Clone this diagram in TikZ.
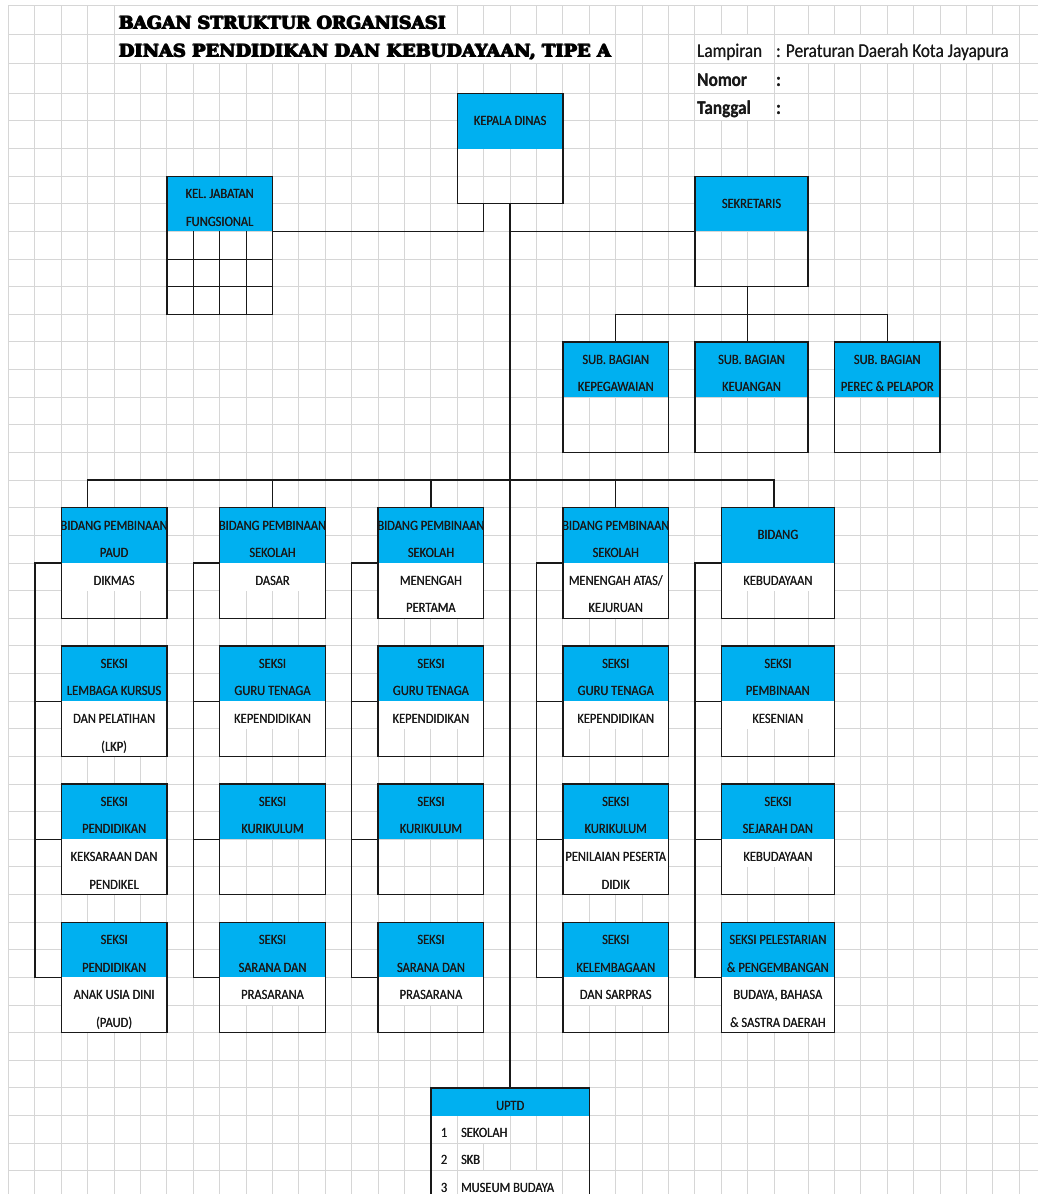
\documentclass[tikz,border=0pt]{standalone}
\usepackage{fontspec}
\usepackage{graphicx}
\usetikzlibrary{fit}
\setmainfont{Carlito}
\newfontfamily\cfont{Carlito}
\newfontfamily\tfont{DejaVu Serif}
\definecolor{cblue}{HTML}{00B0F0}
\definecolor{gridc}{HTML}{D6D6D6}
\newcommand\GX[1]{(8.5+26.4*(#1)+7.5*((#1)>29))}
\newcommand\GY[1]{(93.3+27.63*(#1))}
\newcommand\sq[1]{\scalebox{0.88}[1]{\rlap{\kern0.3pt #1}#1}}
\newcommand\heavy[1]{\rlap{\kern0.8pt #1}\rlap{\kern0.4pt\raise0.4pt\hbox{#1}}#1}
\newcounter{tn}
\tikzset{
  gridline/.style={draw=gridc, line width=1pt},
  frame/.style={draw=black!90, line width=1.3pt},
  conn/.style={draw=black!90, line width=1.3pt},
  btext/.style={font=\cfont\fontsize{14.2}{15}\selectfont, inner sep=0pt, anchor=base, text=black!90},
  htext/.style={font=\cfont\fontsize{19.5}{20}\selectfont, inner sep=0pt, anchor=base west, text=black!90},
  area/.style={inner sep=0pt, outer sep=0pt},
}
\newcommand\orgbox[6]{%
  \path ({\GX{#2}},{\GY{#4}}) coordinate (#1-nw)
        ({\GX{#3}},{\GY{#5}}) coordinate (#1-se)
        ({\GX{#3}},{\GY{#4+#6}}) coordinate (#1-hse);
  \node[area, fill=cblue, fit=(#1-nw)(#1-hse)] (#1h) {};
  \node[area, fit=(#1-nw)(#1-se)] (#1) {};
}
\newcommand\rowtxt[5]{%
  \stepcounter{tn}%
  \begin{scope}
    \clip ({\GX{#1}},{\GY{#3}}) rectangle ({\GX{#2}},{\GY{#3+1}});
    \fill[#4] ({\GX{#1}},{\GY{#3}}) rectangle ({\GX{#2}},{\GY{#3+1}});
    \node[btext] (tx\thetn) at ({(\GX{#1}+\GX{#2})/2},{\GY{#3}+22.3}) {\sq{#5}};
  \end{scope}}
\newcommand\seksi[8]{%
  \orgbox{#1}{#2}{#3}{#4}{(#4+4)}{2}%
  \rowtxt{#2}{#3}{#4}{cblue}{#5}%
  \rowtxt{#2}{#3}{(#4+1)}{cblue}{#6}%
  \if\relax\detokenize{#7}\relax\else\rowtxt{#2}{#3}{(#4+2)}{white}{#7}\fi
  \if\relax\detokenize{#8}\relax\else\rowtxt{#2}{#3}{(#4+3)}{white}{#8}\fi}
\newcommand\uptditem[3]{%
  \node[btext] (un#1) at ({(\GX{16}+\GX{17})/2},{\GY{#2}+21.6}) {\sq{#1}};
  \node[btext, anchor=base west, fill=white, inner xsep=1.5pt, text height=21pt, text depth=5.5pt]
     (ui#1) at ({\GX{17}+2},{\GY{#2}+21.6}) {\sq{#3}};}

\begin{document}
\begin{tikzpicture}[x=1pt,y=-1pt]
\fill[white] (0,0) rectangle (1038,1194);
\useasboundingbox (0,0) rectangle (1038,1194);
\begin{pgfinterruptboundingbox}
% spreadsheet grid
\foreach \jj in {0,...,39} \draw[gridline] ({\GX{\jj}},5) -- ({\GX{\jj}},1194);
\foreach \yy in {5,34.3,63.5} \draw[gridline] (8.5,\yy) -- (1038,\yy);
\foreach \rr in {0,...,39} \draw[gridline] (8.5,{\GY{\rr}}) -- (1038,{\GY{\rr}});

% title
\fill[white] ({\GX{4}+0.6},5.6) rectangle ({\GX{17}-0.6},33.7);
\fill[white] ({\GX{4}+0.6},34.9) rectangle ({\GX{23}-0.6},62.9);
\node[anchor=base west, inner sep=0pt] (title1) at (118,29) {\resizebox{327pt}{13.5pt}{\tfont\bfseries\heavy{BAGAN STRUKTUR ORGANISASI}}};
\node[anchor=base west, inner sep=0pt] (title2) at (118,57.5) {\resizebox{492pt}{13.5pt}{\tfont\bfseries\heavy{DINAS PENDIDIKAN DAN KEBUDAYAAN, TIPE A}}};

% header right
\fill[white] ({\GX{26}+0.6},34.9) rectangle ({\GX{29}-0.6},62.9);
\fill[white] ({\GX{29}+0.6},34.9) rectangle ({\GX{38}-0.6},62.9);
\fill[white] ({\GX{26}+0.6},64.1) rectangle ({\GX{29}-0.6},92.7);
\fill[white] ({\GX{26}+0.6},93.9) rectangle ({\GX{29}-0.6},{\GY{1}-0.6});
\node[htext] (lamp) at (697,57) {\sq{Lampiran}};
\node[htext] (lampv) at (776,57) {\sq{: Peraturan Daerah Kota Jayapura}};
\node[htext, font=\cfont\bfseries\fontsize{19.5}{20}\selectfont] (nom) at (697,86) {\sq{Nomor}};
\node[htext, font=\cfont\bfseries\fontsize{19.5}{20}\selectfont] (nomv) at (776,86) {\sq{:}};
\node[htext, font=\cfont\bfseries\fontsize{19.5}{20}\selectfont] (tgl) at (697,114.5) {\sq{Tanggal}};
\node[htext, font=\cfont\bfseries\fontsize{19.5}{20}\selectfont] (tglv) at (776,114.5) {\sq{:}};

% top boxes
\orgbox{kepala}{17}{21}{0}{4}{2}
\node[btext] (kepalat) at ([yshift=-4.5pt]kepalah.center) {\sq{KEPALA DINAS}};
\orgbox{kel}{6}{10}{3}{8}{2}
\rowtxt{6}{10}{3}{cblue}{KEL. JABATAN}
\rowtxt{6}{10}{4}{cblue}{FUNGSIONAL}
\orgbox{sek}{26}{30}{3}{7}{2}
\node[btext] (sekt) at ([yshift=-4.5pt]sekh.center) {\sq{SEKRETARIS}};

\orgbox{sb1}{21}{25}{9}{13}{2}
\rowtxt{21}{25}{9}{cblue}{SUB. BAGIAN}
\rowtxt{21}{25}{10}{cblue}{KEPEGAWAIAN}
\orgbox{sb2}{26}{30}{9}{13}{2}
\rowtxt{26}{30}{9}{cblue}{SUB. BAGIAN}
\rowtxt{26}{30}{10}{cblue}{KEUANGAN}
\orgbox{sb3}{31}{35}{9}{13}{2}
\rowtxt{31}{35}{9}{cblue}{SUB. BAGIAN}
\rowtxt{31}{35}{10}{cblue}{PEREC \& PELAPOR}

% column A
\seksi{a1}{2}{6}{15}{BIDANG PEMBINAAN}{PAUD}{DIKMAS}{}
\seksi{a2}{2}{6}{20}{SEKSI}{LEMBAGA KURSUS}{DAN PELATIHAN}{(LKP)}
\seksi{a3}{2}{6}{25}{SEKSI}{PENDIDIKAN}{KEKSARAAN DAN}{PENDIKEL}
\seksi{a4}{2}{6}{30}{SEKSI}{PENDIDIKAN}{ANAK USIA DINI}{(PAUD)}
% column B
\seksi{b1}{8}{12}{15}{BIDANG PEMBINAAN}{SEKOLAH}{DASAR}{}
\seksi{b2}{8}{12}{20}{SEKSI}{GURU TENAGA}{KEPENDIDIKAN}{}
\seksi{b3}{8}{12}{25}{SEKSI}{KURIKULUM}{}{}
\seksi{b4}{8}{12}{30}{SEKSI}{SARANA DAN}{PRASARANA}{}
% column C
\seksi{c1}{14}{18}{15}{BIDANG PEMBINAAN}{SEKOLAH}{MENENGAH}{PERTAMA}
\seksi{c2}{14}{18}{20}{SEKSI}{GURU TENAGA}{KEPENDIDIKAN}{}
\seksi{c3}{14}{18}{25}{SEKSI}{KURIKULUM}{}{}
\seksi{c4}{14}{18}{30}{SEKSI}{SARANA DAN}{PRASARANA}{}
% column D
\seksi{d1}{21}{25}{15}{BIDANG PEMBINAAN}{SEKOLAH}{MENENGAH ATAS/}{KEJURUAN}
\seksi{d2}{21}{25}{20}{SEKSI}{GURU TENAGA}{KEPENDIDIKAN}{}
\seksi{d3}{21}{25}{25}{SEKSI}{KURIKULUM}{PENILAIAN PESERTA}{DIDIK}
\seksi{d4}{21}{25}{30}{SEKSI}{KELEMBAGAAN}{DAN SARPRAS}{}
% column E
\orgbox{e1}{27}{31}{15}{19}{2}
\node[btext] (e1t) at ([yshift=-4.5pt]e1h.center) {\sq{BIDANG}};
\rowtxt{27}{31}{17}{white}{KEBUDAYAAN}
\seksi{e2}{27}{31}{20}{SEKSI}{PEMBINAAN}{KESENIAN}{}
\seksi{e3}{27}{31}{25}{SEKSI}{SEJARAH DAN}{KEBUDAYAAN}{}
\seksi{e4}{27}{31}{30}{SEKSI PELESTARIAN}{\& PENGEMBANGAN}{BUDAYA, BAHASA}{\& SASTRA DAERAH}

% UPTD
\orgbox{uptd}{16}{22}{36}{39.85}{1}
\rowtxt{16}{22}{36}{cblue}{UPTD}
\uptditem{1}{37}{SEKOLAH}
\uptditem{2}{38}{SKB}
\uptditem{3}{39}{MUSEUM BUDAYA}

% frames
\foreach \nn in {kepala,kel,sek,sb1,sb2,sb3,a1,a2,a3,a4,b1,b2,b3,b4,c1,c2,c3,c4,d1,d2,d3,d4,e1,e2,e3,e4}
  \draw[frame] (\nn.north west) rectangle (\nn.south east);
\draw[frame] (uptd.south west) -- (uptd.north west) -- (uptd.north east) -- (uptd.south east);
% table lines of KEL. JABATAN FUNGSIONAL
\foreach \jj in {7,8,9} \draw[frame, line width=1.1pt] ({\GX{\jj}},{\GY{5}}) -- ({\GX{\jj}},{\GY{8}});
\foreach \rr in {6,7} \draw[frame, line width=1.1pt] ({\GX{6}},{\GY{\rr}}) -- ({\GX{10}},{\GY{\rr}});

% helper coordinates
\coordinate (bus8) at (0,{\GY{8}});
\coordinate (bus14) at (0,{\GY{14}});
\foreach \jj in {1,3,7,13,18,20,26,28,29} \coordinate (j\jj) at ({\GX{\jj}},0);

% connectors
\draw[conn] (kepala.south -| j18) |- (kelh.south east);
\draw[conn] (kepala.south) -- (uptd.north);
\draw[conn] (sekh.south west -| kepala.south) -- (sekh.south west);
\draw[conn] (sek.south -| j28) -- (sb2.north -| j28);
\draw[conn] (sb1.north) |- (bus8 -| sb3.north) -- (sb3.north);
\draw[conn] (a1.north -| j3) |- (bus14 -| j29) -- (e1.north -| j29);
\draw[conn] (b1.north) -- (b1.north |- bus14);
\draw[conn] (c1.north) -- (c1.north |- bus14);
\draw[conn] (d1.north) -- (d1.north |- bus14);
% side brackets
\draw[conn] (a1h.south west) -| (j1 |- a4h.south west) -- (a4h.south west);
\draw[conn] (a2h.south west) -- (a2h.south west -| j1);
\draw[conn] (a3h.south west) -- (a3h.south west -| j1);
\draw[conn] (b1h.south west) -| (j7 |- b4h.south west) -- (b4h.south west);
\draw[conn] (b2h.south west) -- (b2h.south west -| j7);
\draw[conn] (b3h.south west) -- (b3h.south west -| j7);
\draw[conn] (c1h.south west) -| (j13 |- c4h.south west) -- (c4h.south west);
\draw[conn] (c2h.south west) -- (c2h.south west -| j13);
\draw[conn] (c3h.south west) -- (c3h.south west -| j13);
\draw[conn] (d1h.south west) -| (j20 |- d4h.south west) -- (d4h.south west);
\draw[conn] (d2h.south west) -- (d2h.south west -| j20);
\draw[conn] (d3h.south west) -- (d3h.south west -| j20);
\draw[conn] (e1h.south west) -| (j26 |- e4h.south west) -- (e4h.south west);
\draw[conn] (e2h.south west) -- (e2h.south west -| j26);
\draw[conn] (e3h.south west) -- (e3h.south west -| j26);
\end{pgfinterruptboundingbox}
\end{tikzpicture}
\end{document}
